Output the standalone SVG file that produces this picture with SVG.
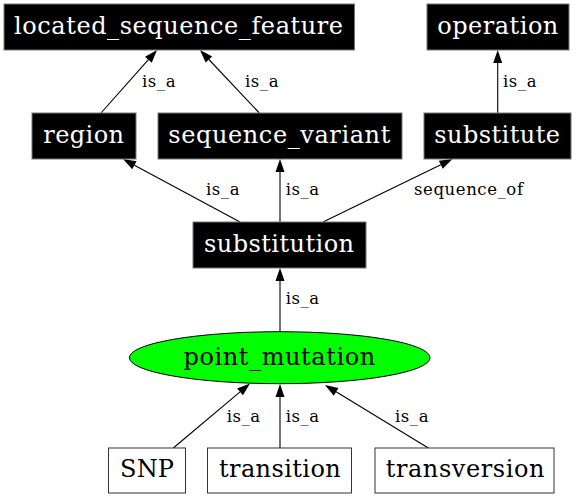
<svg xmlns="http://www.w3.org/2000/svg" width="576" height="498" viewBox="0 0 576 498">
<defs>
<style>
.dark rect{fill:#000;stroke:#777;stroke-width:1}
.light rect{fill:#fff;stroke:#333;stroke-width:1}
.nl{font-family:"DejaVu Serif",serif;font-size:24px}
.dark text{fill:#fff}
.light text,.ell text{fill:#000}
.edges line{stroke:#000;stroke-width:1.1}
.el{font-family:"DejaVu Serif",serif;font-size:16.5px;fill:#000}
</style>
<marker id="ah" markerUnits="userSpaceOnUse" markerWidth="14" markerHeight="10" refX="0" refY="4.5" orient="auto" overflow="visible">
<path d="M0,0 L13,4.5 L0,9 z" fill="#000"/>
</marker>
</defs>
<rect width="576" height="498" fill="#fff"/>
<g class="edges">
<line x1="101" y1="113" x2="148.4" y2="59.7" marker-end="url(#ah)"/>
<line x1="259.3" y1="113" x2="208.9" y2="59.5" marker-end="url(#ah)"/>
<line x1="497.7" y1="113" x2="497.7" y2="63" marker-end="url(#ah)"/>
<line x1="240" y1="222" x2="134.4" y2="165.2" marker-end="url(#ah)"/>
<line x1="280" y1="222" x2="280" y2="172" marker-end="url(#ah)"/>
<line x1="323" y1="222" x2="440.8" y2="164.7" marker-end="url(#ah)"/>
<line x1="280" y1="332" x2="280" y2="281" marker-end="url(#ah)"/>
<line x1="173.3" y1="448" x2="240.05" y2="391.9" marker-end="url(#ah)"/>
<line x1="280" y1="448" x2="280" y2="397" marker-end="url(#ah)"/>
<line x1="428.3" y1="448" x2="336.1" y2="391.8" marker-end="url(#ah)"/>
<text class="el" x="142" y="87" textLength="33.5" lengthAdjust="spacing">is_a</text>
<text class="el" x="245" y="87" textLength="33.5" lengthAdjust="spacing">is_a</text>
<text class="el" x="503" y="87" textLength="33.5" lengthAdjust="spacing">is_a</text>
<text class="el" x="206" y="195" textLength="33.5" lengthAdjust="spacing">is_a</text>
<text class="el" x="285.7" y="195" textLength="33.5" lengthAdjust="spacing">is_a</text>
<text class="el" x="414" y="195" textLength="109" lengthAdjust="spacing">sequence_of</text>
<text class="el" x="285.7" y="304" textLength="33.5" lengthAdjust="spacing">is_a</text>
<text class="el" x="226.7" y="421.5" textLength="33.5" lengthAdjust="spacing">is_a</text>
<text class="el" x="285.7" y="421.5" textLength="33.5" lengthAdjust="spacing">is_a</text>
<text class="el" x="395" y="421.5" textLength="33.5" lengthAdjust="spacing">is_a</text>
</g>
<g id="located_sequence_feature" class="dark"><rect x="4" y="4" width="350.5" height="46"/><text class="nl" x="14" y="33.5" textLength="329" lengthAdjust="spacing">located_sequence_feature</text></g>
<g id="operation" class="dark"><rect x="427" y="4" width="142" height="46"/><text class="nl" x="437.3" y="33.5" textLength="121" lengthAdjust="spacing">operation</text></g>
<g id="region" class="dark"><rect x="32" y="113" width="104" height="46"/><text class="nl" x="43.3" y="142.5" textLength="80.7" lengthAdjust="spacing">region</text></g>
<g id="sequence_variant" class="dark"><rect x="158" y="113" width="244" height="46"/><text class="nl" x="168.3" y="142.5" textLength="222" lengthAdjust="spacing">sequence_variant</text></g>
<g id="substitute" class="dark"><rect x="424" y="113" width="147" height="46"/><text class="nl" x="434.3" y="142.5" textLength="125.7" lengthAdjust="spacing">substitute</text></g>
<g id="substitution" class="dark"><rect x="193" y="222" width="173" height="46"/><text class="nl" x="204" y="251.5" textLength="150" lengthAdjust="spacing">substitution</text></g>
<g id="point_mutation" class="ell"><ellipse cx="279.7" cy="357.7" rx="150.3" ry="26" fill="#00ff00" stroke="#000" stroke-width="1"/><text class="nl" x="183.5" y="364.5" textLength="191.7" lengthAdjust="spacing">point_mutation</text></g>
<g id="SNP" class="light"><rect x="108.5" y="448" width="77" height="45"/><text class="nl" x="120" y="477" textLength="54" lengthAdjust="spacing">SNP</text></g>
<g id="transition" class="light"><rect x="207.5" y="448" width="144" height="45"/><text class="nl" x="219" y="477" textLength="121.7" lengthAdjust="spacing">transition</text></g>
<g id="transversion" class="light"><rect x="375" y="448" width="179" height="45"/><text class="nl" x="385.7" y="477" textLength="158.7" lengthAdjust="spacing">transversion</text></g>
</svg>
